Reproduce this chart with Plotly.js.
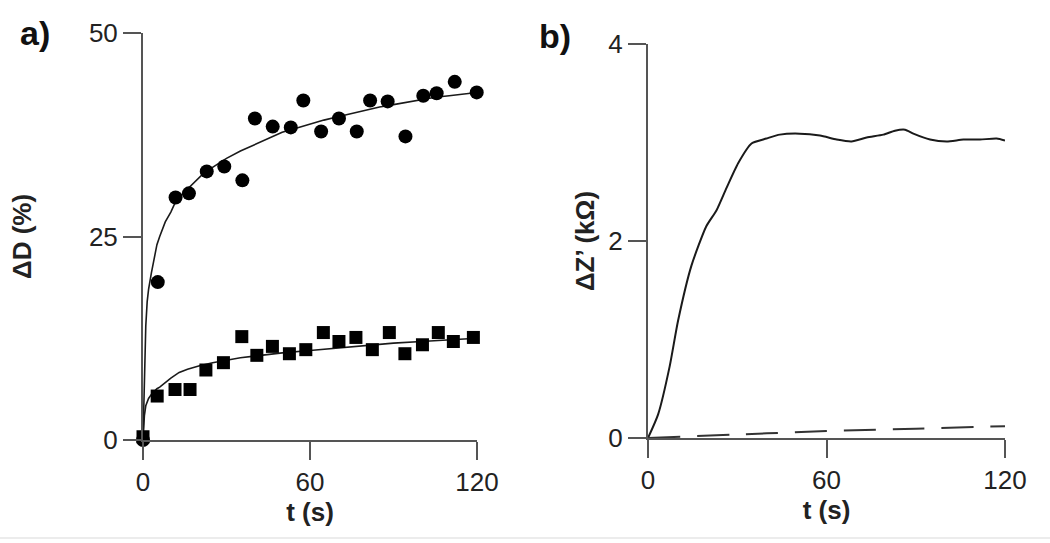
<!DOCTYPE html>
<html>
<head>
<meta charset="utf-8">
<script src="https://cdn.plot.ly/plotly-3.0.1.min.js"></script>
<style>html,body{margin:0;padding:0;background:#fff;}#chart{width:1050px;height:543px;}</style>
</head>
<body>
<div id="chart"></div>
<script>
// Panel a: circles (upper series)
const circT = [0, 5.3, 11.7, 16.5, 22.9, 29.2, 35.7, 40.2, 46.6, 53.1, 57.6, 64.0, 70.4, 76.8, 81.6, 87.9, 94.3, 100.7, 105.5, 112.0, 119.9];
const circD = [0, 19.4, 29.8, 30.3, 33.0, 33.6, 31.9, 39.5, 38.5, 38.4, 41.7, 37.9, 39.5, 37.9, 41.7, 41.6, 37.3, 42.3, 42.6, 44.0, 42.7];
// Panel a: squares (lower series)
const sqT = [0, 5.1, 11.5, 16.9, 22.6, 28.9, 35.5, 40.9, 46.5, 52.6, 58.5, 64.8, 70.4, 76.5, 82.4, 88.5, 94.1, 100.4, 106.1, 111.5, 118.7];
const sqD = [0.4, 5.4, 6.2, 6.2, 8.6, 9.5, 12.7, 10.4, 11.5, 10.6, 11.1, 13.2, 12.1, 12.6, 11.1, 13.2, 10.6, 11.7, 13.2, 12.1, 12.6];
// Panel a: fitted curves
const fitCircT = [0, 0.5, 1, 1.5, 2, 3, 4, 5, 6, 8, 10, 12, 15, 18, 21, 25, 30, 35, 40, 45, 50, 55, 60, 65, 70, 75, 80, 85, 90, 95, 100, 105, 110, 115, 120];
const fitCircD = [0, 8, 14, 17, 18.5, 20.5, 22.5, 24, 25, 26.8, 28, 29.5, 30.5, 31.5, 32.5, 33.5, 34.6, 35.5, 36.3, 37.1, 37.8, 38.3, 38.8, 39.3, 39.7, 40.1, 40.5, 40.9, 41.2, 41.5, 41.8, 42.1, 42.3, 42.5, 42.7];
const fitSqT = [0, 0.5, 1, 2, 3, 4, 5, 6, 8, 10, 13, 16, 20, 25, 30, 35, 40, 50, 60, 70, 80, 90, 100, 110, 120];
const fitSqD = [0, 3, 4.2, 5.1, 5.6, 6, 6.3, 6.5, 7.1, 7.6, 8.3, 8.7, 9.1, 9.5, 9.8, 10.1, 10.3, 10.7, 11.0, 11.3, 11.6, 11.9, 12.1, 12.3, 12.5];
// Panel b: impedance change
const zT = [0, 3.4, 7.3, 10.1, 14.6, 19.6, 23.0, 26.4, 30.3, 34.8, 39.8, 44.3, 51.0, 57.8, 63.4, 68.4, 73.5, 79.1, 83.0, 86.4, 89.2, 94.8, 100.4, 106.0, 111.6, 117.2, 120];
const zSolid = [0, 0.24, 0.73, 1.19, 1.75, 2.15, 2.31, 2.54, 2.79, 2.99, 3.04, 3.08, 3.09, 3.07, 3.03, 3.01, 3.05, 3.08, 3.12, 3.13, 3.09, 3.03, 3.01, 3.03, 3.03, 3.04, 3.02];
const zDashT = [0, 30, 60, 90, 120];
const zDash = [0, 0.035, 0.07, 0.095, 0.12];

const xTicks = [0, 60, 120];
const yTicksA = [0, 25, 50];
const yTicksB = [0, 2, 4];

const ink = '#1a1a1a';
const axisCol = '#555555';
const FONT = 'Liberation Sans, Arial, Helvetica, sans-serif';

const traces = [
  {x: fitCircT, y: fitCircD, mode: 'lines', line: {color: ink, width: 1.6}, xaxis: 'x', yaxis: 'y', hoverinfo: 'skip', cliponaxis: false},
  {x: fitSqT, y: fitSqD, mode: 'lines', line: {color: ink, width: 1.6}, xaxis: 'x', yaxis: 'y', hoverinfo: 'skip', cliponaxis: false},
  {x: circT, y: circD, mode: 'markers', marker: {symbol: 'circle', size: 14, color: '#000'}, xaxis: 'x', yaxis: 'y', cliponaxis: false},
  {x: sqT, y: sqD, mode: 'markers', marker: {symbol: 'square', size: 13, color: '#000'}, xaxis: 'x', yaxis: 'y', cliponaxis: false},
  {x: zT, y: zSolid, mode: 'lines', line: {color: ink, width: 2, shape: 'spline', smoothing: 0.6}, xaxis: 'x2', yaxis: 'y2', hoverinfo: 'skip'},
  {x: zDashT, y: zDash, mode: 'lines', line: {color: '#333', width: 2, dash: '32px,17px', shape: 'spline'}, xaxis: 'x2', yaxis: 'y2', hoverinfo: 'skip'}
];

function axis(extra) {
  return Object.assign({
    showline: true, linecolor: axisCol, linewidth: 2,
    ticks: 'outside', ticklen: 18, tickwidth: 2, tickcolor: axisCol,
    showgrid: false, zeroline: false, fixedrange: true,
    tickfont: {family: FONT, size: 26, color: '#222'},
    automargin: false
  }, extra);
}

const layout = {
  width: 1050, height: 543,
  margin: {l: 0, r: 0, t: 0, b: 0},
  paper_bgcolor: '#fff', plot_bgcolor: '#fff',
  showlegend: false,
  xaxis: axis({domain: [143/1050, 477/1050], range: [0, 120], tickvals: xTicks, ticktext: xTicks.map(String), anchor: 'y',
    title: {text: 't (s)', font: {family: FONT, size: 26, color: '#222', weight: 'bold'}, standoff: 4}}),
  yaxis: axis({domain: [103/543, 510/543], range: [0, 50], tickvals: yTicksA, ticktext: yTicksA.map(String), anchor: 'x',
    title: {text: 'ΔD (%)', font: {family: FONT, size: 26, color: '#222', weight: 'bold'}, standoff: 50}}),
  xaxis2: axis({domain: [648/1050, 1005/1050], range: [0, 120], tickvals: xTicks, ticktext: xTicks.map(String), anchor: 'y2',
    title: {text: 't (s)', font: {family: FONT, size: 26, color: '#222', weight: 'bold'}, standoff: 4}}),
  yaxis2: axis({domain: [105/543, 499/543], range: [0, 4], tickvals: yTicksB, ticktext: yTicksB.map(String), anchor: 'x2',
    title: {text: 'ΔZ’ (kΩ)', font: {family: FONT, size: 26, color: '#222', weight: 'bold'}, standoff: 6}}),
  annotations: [
    {text: '<b>a)</b>', xref: 'paper', yref: 'paper', x: 35/1050, y: 1 - 33/543, xanchor: 'center', yanchor: 'middle', showarrow: false, font: {family: FONT, size: 34, color: '#111'}},
    {text: '<b>b)</b>', xref: 'paper', yref: 'paper', x: 555/1050, y: 1 - 36/543, xanchor: 'center', yanchor: 'middle', showarrow: false, font: {family: FONT, size: 34, color: '#111'}}
  ],
  shapes: [
    {type: 'line', xref: 'paper', yref: 'paper', x0: 0, x1: 1, y0: 5/543, y1: 5/543, line: {color: '#ececec', width: 2}}
  ]
};

Plotly.newPlot('chart', traces, layout, {displayModeBar: false, staticPlot: true});
</script>
</body>
</html>
